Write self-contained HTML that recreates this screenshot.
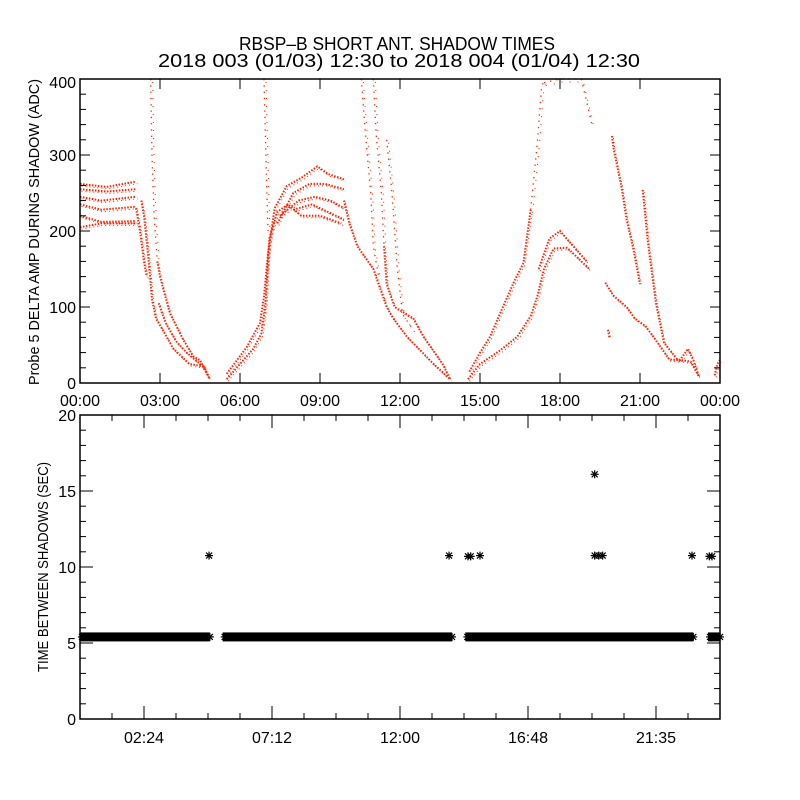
<!DOCTYPE html>
<html><head><meta charset="utf-8"><style>
html,body{margin:0;padding:0;background:#fff;}
svg{display:block;font-family:"Liberation Sans",sans-serif;}
</style></head><body>
<svg id="chart" width="800" height="800" viewBox="0 0 800 800" xmlns="http://www.w3.org/2000/svg">
<rect width="800" height="800" fill="#fff"/>
<text x="397" y="50" text-anchor="middle" font-size="18" textLength="316" lengthAdjust="spacingAndGlyphs">RBSP–B SHORT ANT. SHADOW TIMES</text>
<text x="399" y="67" text-anchor="middle" font-size="18" textLength="482" lengthAdjust="spacingAndGlyphs">2018 003 (01/03) 12:30 to 2018 004 (01/04) 12:30</text>
<text transform="translate(39,232) rotate(-90)" text-anchor="middle" font-size="15" textLength="306" lengthAdjust="spacingAndGlyphs">Probe 5 DELTA AMP DURING SHADOW (ADC)</text>
<text transform="translate(48,567) rotate(-90)" text-anchor="middle" font-size="15" textLength="210" lengthAdjust="spacingAndGlyphs">TIME BETWEEN SHADOWS (SEC)</text>
<g id="topPlot"></g>
<g id="botPlot"></g>
</svg>
<script>
// ---- top plot data: dense traces of [hour, ADC] ----
const topTraces = [
 [[0,262],[1,258],[2.1,265]],
 [[0,255],[1,252],[2.1,255]],
 [[0,245],[0.8,240],[2.1,245]],
 [[0,235],[0.8,228],[2.1,232]],
 [[0,220],[0.8,212],[2.1,213]],
 [[0,205],[0.8,210],[2.1,210]],
 [[2.1,230],[2.25,200],[2.4,160],[2.5,140]],
 [[2.3,240],[2.4,220],[2.55,170],[2.7,110],[2.85,85],[3.1,70],[3.5,45],[4.1,25],[4.6,22],[4.85,6]],
 [[2.9,160],[3.0,140],[3.37,92],[3.87,57],[4.25,35],[4.5,30],[4.7,18],[4.85,6]],
 [[2.95,105],[3.2,80],[3.6,55],[4.0,40],[4.4,28],[4.7,20]],
 [[5.5,5],[6.0,25],[6.5,45],[6.8,65],[6.95,100],[7.1,190],[7.4,225],[7.8,235],[8.3,220],[9.0,220],[9.8,210]],
 [[5.5,12],[6.25,47],[6.75,79],[6.9,114],[7.05,170],[7.3,230],[7.75,259],[8.3,270],[8.9,285],[9.3,275],[9.9,268]],
 [[7.4,210],[8.0,250],[8.6,262],[9.2,262],[9.9,255]],
 [[7.5,220],[8.2,240],[8.8,245],[9.4,240],[9.9,230]],
 [[8.0,228],[8.7,235],[9.3,225],[9.9,215]],
 [[9.9,240],[10.1,210],[10.4,180],[10.7,165],[11.0,150],[11.2,130],[11.5,100],[11.75,85],[12.26,61],[12.76,43],[13.26,25],[13.88,5]],
 [[11.4,180],[11.5,130],[11.8,100],[12.5,85],[12.88,61],[13.3,40],[13.6,25],[13.88,5]],
 [[14.55,5],[15.0,25],[15.76,43],[16.4,61],[16.9,88],[17.15,114],[17.4,150],[17.76,177],[18.26,178],[18.6,167],[19.1,150]],
 [[14.6,15],[15.0,40],[15.38,61],[15.76,92],[16.26,132],[16.63,158],[16.9,228]],
 [[17.2,150],[17.6,190],[18.0,200],[18.5,180],[19.0,160]],
 [[19.95,325],[20.0,310],[20.3,259],[20.5,215],[20.76,175],[21.0,130]],
 [[21.1,254],[21.3,184],[21.6,105],[21.9,53],[22.4,31],[22.9,28],[23.2,9]],
 [[19.7,132],[20.0,115],[20.5,100],[20.8,85],[21.2,75],[21.5,61],[22.1,31],[22.5,30],[22.8,45],[23.0,30],[23.2,9]],
 [[19.8,70],[19.85,60]],
 [[23.8,10],[23.9,25],[24,30]]
];
// ---- sparse (scattered) traces ----
const sparseTraces = [
 [[2.65,400],[2.7,300],[2.78,220],[2.9,160]],
 [[6.9,400],[6.95,330],[7.0,260],[7.05,200]],
 [[10.55,400],[10.7,330],[10.9,250],[11.0,180],[11.2,140]],
 [[11.0,400],[11.1,330],[11.3,250],[11.4,180]],
 [[11.5,320],[11.7,250],[11.8,200],[11.9,150],[12.1,90],[12.5,70]],
 [[16.9,228],[17.15,316],[17.3,386],[17.4,400]],
 [[17.4,395],[18.0,400],[18.5,400],[18.8,400],[19.0,370],[19.2,340]]
];
const topXTicks = ["00:00","03:00","06:00","09:00","12:00","15:00","18:00","21:00","00:00"];
const topYTicks = [0,100,200,300,400];
// ---- bottom plot data ----
const bandValue = 5.4;
const bandStart = [0, 5.35, 14.45, 23.55];
const bandEnd = [4.87, 13.95, 23.0, 24];
const outlierH = [4.84, 13.84, 14.55, 14.65, 15.0, 19.3, 19.3, 19.45, 19.6, 22.95, 23.6, 23.7];
const outlierV = [10.75, 10.75, 10.7, 10.7, 10.75, 16.1, 10.75, 10.75, 10.75, 10.75, 10.7, 10.7];
const botXTickHours = [2.4, 7.2, 12, 16.8, 21.6];
const botXTickLabels = ["02:24","07:12","12:00","16:48","21:35"];
const botYTicks = [0,5,10,15,20];

const NS="http://www.w3.org/2000/svg";
function mk(tag,attrs,parent){const e=document.createElementNS(NS,tag);for(const k in attrs)e.setAttribute(k,attrs[k]);parent.appendChild(e);return e;}
const PL=80,PR=720;
const xs=h=>PL+h/24*(PR-PL);
// top
const T0=79,T1=383;
const ys=v=>T1-v/400*(T1-T0);
const topG=document.getElementById('topPlot');
topTraces.forEach((tr,i)=>{
  const p=mk('polyline',{points:tr.map(d=>xs(d[0])+','+ys(d[1])).join(' '),fill:'none',stroke:'#ff2200','stroke-width':'2','stroke-dasharray':'1.5 1.5'},topG);
  
  
  const p2=mk('polyline',{points:tr.map(d=>(xs(d[0])+1.5)+','+(ys(d[1])+2)).join(' '),fill:'none',stroke:'#ff2200','stroke-width':'1','stroke-dasharray':'1 3'},topG);
  
  
});
sparseTraces.forEach((tr,i)=>{
  const p=mk('polyline',{points:tr.map(d=>xs(d[0])+','+ys(d[1])).join(' '),fill:'none',stroke:'#ff2200','stroke-width':'1.3','stroke-dasharray':'1.3 5'},topG);
  
  
  const p2=mk('polyline',{points:tr.map(d=>(xs(d[0])+2)+','+(ys(d[1])+3)).join(' '),fill:'none',stroke:'#ff2200','stroke-width':'1','stroke-dasharray':'1 7'},topG);
  
  
});
const tf=mk('rect',{x:PL,y:T0,width:PR-PL,height:T1-T0,fill:'none',stroke:'#000','stroke-width':'1.5'},topG);


for(let v=0;v<=400;v+=20){
  const len=(v%100===0)?10:6;
  mk('line',{x1:PL,x2:PL+len,y1:ys(v),y2:ys(v),stroke:'#000'},topG);
  mk('line',{x1:PR,x2:PR-len,y1:ys(v),y2:ys(v),stroke:'#000'},topG);
}
topYTicks.forEach(v=>{
  const t=mk('text',{x:PL-4,y:ys(v)+6+(v===400?3:0),'text-anchor':'end','font-size':'16'},topG);
  t.textContent=v;
  
  
});
topXTicks.forEach((s,i)=>{
  const x=xs(i*3);
  mk('line',{x1:x,x2:x,y1:T1,y2:T1-10,stroke:'#000'},topG);
  mk('line',{x1:x,x2:x,y1:T0,y2:T0+10,stroke:'#000'},topG);
  const t=mk('text',{x:x,y:406,'text-anchor':'middle','font-size':'16'},topG);
  t.textContent=s;
  
  
});
// bottom
const B0=415,B1=719;
const yb=v=>B1-v/20*(B1-B0);
const botG=document.getElementById('botPlot');
function star(x,y,parent){
  const g=mk('g',{stroke:'#000','stroke-width':'1.2'},parent);
  mk('line',{x1:x-4,x2:x+4,y1:y,y2:y},g);
  mk('line',{x1:x,x2:x,y1:y-4,y2:y+4},g);
  mk('line',{x1:x-3,x2:x+3,y1:y-3,y2:y+3},g);
  mk('line',{x1:x-3,x2:x+3,y1:y+3,y2:y-3},g);
  return g;
}
bandStart.forEach((s,i)=>{
  const r=mk('rect',{x:xs(s),y:yb(bandValue)-4.5,width:xs(bandEnd[i])-xs(s),height:9,fill:'#000'},botG);
  
  
  star(xs(bandEnd[i]),yb(bandValue),botG);
  star(xs(s)+2,yb(bandValue),botG);
});
outlierH.forEach((h,i)=>{
  const g=star(xs(h),yb(outlierV[i]),botG);
  
  
});
const bf=mk('rect',{x:PL,y:B0,width:PR-PL,height:B1-B0,fill:'none',stroke:'#000','stroke-width':'1.5'},botG);


for(let v=0;v<=20;v+=1){
  const len=(v%5===0)?13:6;
  mk('line',{x1:PL,x2:PL+len,y1:yb(v),y2:yb(v),stroke:'#000'},botG);
  mk('line',{x1:PR,x2:PR-len,y1:yb(v),y2:yb(v),stroke:'#000'},botG);
}
botYTicks.forEach(v=>{
  const t=mk('text',{x:PL-4,y:yb(v)+6,'text-anchor':'end','font-size':'16'},botG);
  t.textContent=v;
  
  
});
for(let k=1;k<20;k++){
  const h=k*1.2;
  const major=botXTickHours.some(m=>Math.abs(m-h)<0.01);
  const len=major?13:6, x=xs(h);
  mk('line',{x1:x,x2:x,y1:B1,y2:B1-len,stroke:'#000'},botG);
  mk('line',{x1:x,x2:x,y1:B0,y2:B0+len,stroke:'#000'},botG);
}
botXTickHours.forEach((h,i)=>{
  const t=mk('text',{x:xs(h),y:743,'text-anchor':'middle','font-size':'16'},botG);
  t.textContent=botXTickLabels[i];
  
  
});
</script>
</body></html>
